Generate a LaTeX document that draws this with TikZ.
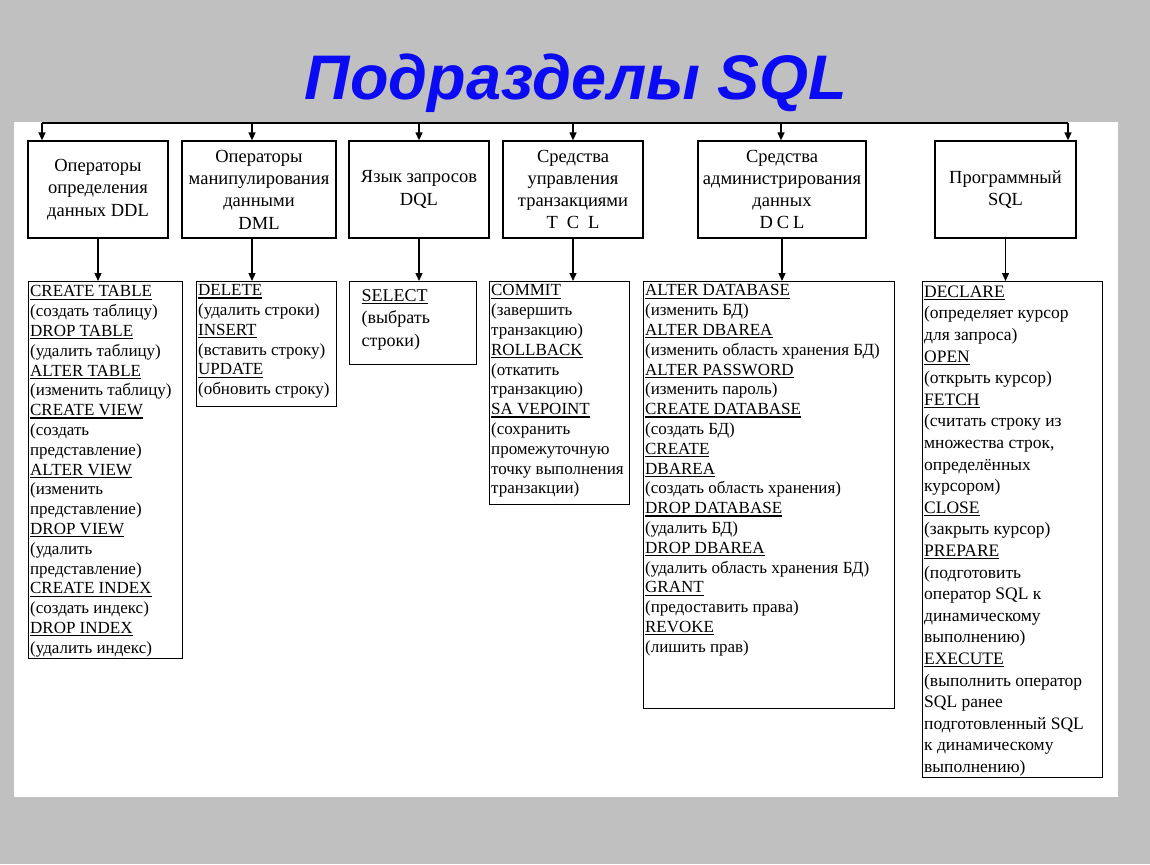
\documentclass[tikz,border=0pt]{standalone}
\usepackage{fontspec}
\setmainfont{Liberation Serif}
\newfontfamily\titlefont{Liberation Sans}
\usetikzlibrary{positioning,arrows.meta}
\definecolor{pagegray}{HTML}{C0C0C0}
\definecolor{titleblue}{HTML}{0A0AF5}
\newsavebox\kwbox
\newcommand{\kw}[1]{\sbox\kwbox{#1}\rlap{\rule[-2.9pt]{\wd\kwbox}{1.2pt}}\usebox\kwbox}

\begin{document}
\begin{tikzpicture}[x=1pt,y=-1pt,>={Triangle[length=8pt,width=7pt]},line width=1.3pt,
    head/.style={draw,rectangle,align=center,minimum height=97pt,inner sep=1pt,font=\fontsize{18.5}{22.3}\selectfont},
    listbox/.style={draw,rectangle,anchor=north west,inner sep=0pt},
    listtext/.style={align=left,inner sep=0pt,font=\fontsize{17}{19.8}\selectfont},
    bigtext/.style={align=left,inner sep=0pt,font=\fontsize{18}{22.4}\selectfont}]
    \fill[pagegray] (0,0) rectangle (1150,864);
    \fill[white] (14,122) rectangle (1118,797);

    \node[font=\titlefont\bfseries\itshape\fontsize{63}{68}\selectfont,text=titleblue,anchor=base] (title) at (576,100) {Подразделы SQL};

    % headers
    \node[head,minimum width=140pt] (h1) at (98,189.5) {Операторы\\определения\\данных DDL};
    \node[head,minimum width=154pt] (h2) at (259,189.5) {Операторы\\манипулирования\\данными\\DML};
    \node[head,minimum width=140pt] (h3) at (419,189.5) {Язык запросов\\DQL};
    \node[head,minimum width=140pt] (h4) at (573,189.5) {Средства\\управления\\транзакциями\\T\kern9pt C\kern9pt L};
    \node[head,minimum width=168pt] (h5) at (782,189.5) {Средства\\администрирования\\данных\\D\kern4pt C\kern4pt L};
    \node[head,minimum width=141pt] (h6) at (1005.5,189.5) {Программный\\SQL};

    % lists
    \node[listbox,minimum width=154pt,minimum height=377pt] (l1) at (28,281) {};
    \node[listtext,below right=4pt and 1.5pt of l1.north west] (t1) {\kw{CREATE TABLE}\\(создать таблицу)\\\kw{DROP TABLE}\\(удалить таблицу)\\\kw{ALTER TABLE}\\(изменить таблицу)\\\kw{CREATE VIEW}\\(создать\\представление)\\\kw{ALTER VIEW}\\(изменить\\представление)\\\kw{DROP VIEW}\\(удалить\\представление)\\\kw{CREATE INDEX}\\(создать индекс)\\\kw{DROP INDEX}\\(удалить индекс)};

    \node[listbox,minimum width=140pt,minimum height=125pt] (l2) at (196,281) {};
    \node[listtext,below right=3pt and 1.5pt of l2.north west] (t2) {\kw{DELETE}\\(удалить строки)\\\kw{INSERT}\\(вставить строку)\\\kw{UPDATE}\\(обновить строку)};

    \node[listbox,minimum width=127pt,minimum height=83pt] (l3) at (349,281) {};
    \node[bigtext,below right=8pt and 12pt of l3.north west] (t3) {\kw{SELECT}\\(выбрать\\строки)};

    \node[listbox,minimum width=140pt,minimum height=223pt] (l4) at (489,281) {};
    \node[listtext,below right=3pt and 1.5pt of l4.north west] (t4) {\kw{COMMIT}\\(завершить\\транзакцию)\\\kw{ROLLBACK}\\(откатить\\транзакцию)\\\kw{SA VEPOINT}\\(сохранить\\промежуточную\\точку выполнения\\транзакции)};

    \node[listbox,minimum width=251pt,minimum height=427pt] (l5) at (643,281) {};
    \node[listtext,below right=3pt and 1.5pt of l5.north west] (t5) {\kw{ALTER DATABASE}\\(изменить БД)\\\kw{ALTER DBAREA}\\(изменить область хранения БД)\\\kw{ALTER PASSWORD}\\(изменить пароль)\\\kw{CREATE DATABASE}\\(создать БД)\\\kw{CREATE}\\\kw{DBAREA}\\(создать область хранения)\\\kw{DROP DATABASE}\\(удалить БД)\\\kw{DROP DBAREA}\\(удалить область хранения БД)\\\kw{GRANT}\\(предоставить права)\\\kw{REVOKE}\\(лишить прав)};

    \node[listbox,minimum width=180pt,minimum height=496pt] (l6) at (922,281) {};
    \node[listtext,font=\fontsize{17.5}{21.6}\selectfont,below right=4pt and 1.5pt of l6.north west] (t6) {\kw{DECLARE}\\(определяет курсор\\для запроса)\\\kw{OPEN}\\(открыть курсор)\\\kw{FETCH}\\(считать строку из\\множества строк,\\определённых\\курсором)\\\kw{CLOSE}\\(закрыть курсор)\\\kw{PREPARE}\\(подготовить\\оператор SQL к\\динамическому\\выполнению)\\\kw{EXECUTE}\\(выполнить оператор\\SQL ранее\\подготовленный SQL\\к динамическому\\выполнению)};

    % bus and drops
    \coordinate (d1) at (42,123);
    \coordinate (d2) at (252,123);
    \coordinate (d3) at (419,123);
    \coordinate (d4) at (573,123);
    \coordinate (d5) at (781,123);
    \coordinate (d6) at (1068,123);
    \draw (d1) -- (d6);

    \path[->]
        (d1) edge (d1 |- h1.north)
        (d2) edge (d2 |- h2.north)
        (d3) edge (d3 |- h3.north)
        (d4) edge (d4 |- h4.north)
        (d5) edge (d5 |- h5.north)
        (d6) edge (d6 |- h6.north)

        (h1.south) edge (h1.south |- l1.north)
        (d2 |- h2.south) edge (d2 |- l2.north)
        (h3.south) edge (h3.south |- l3.north)
        (h4.south) edge (h4.south |- l4.north)
        (h5.south) edge (h5.south |- l5.north)
        (h6.south) edge (h6.south |- l6.north)
        ;
\end{tikzpicture}
\end{document}
